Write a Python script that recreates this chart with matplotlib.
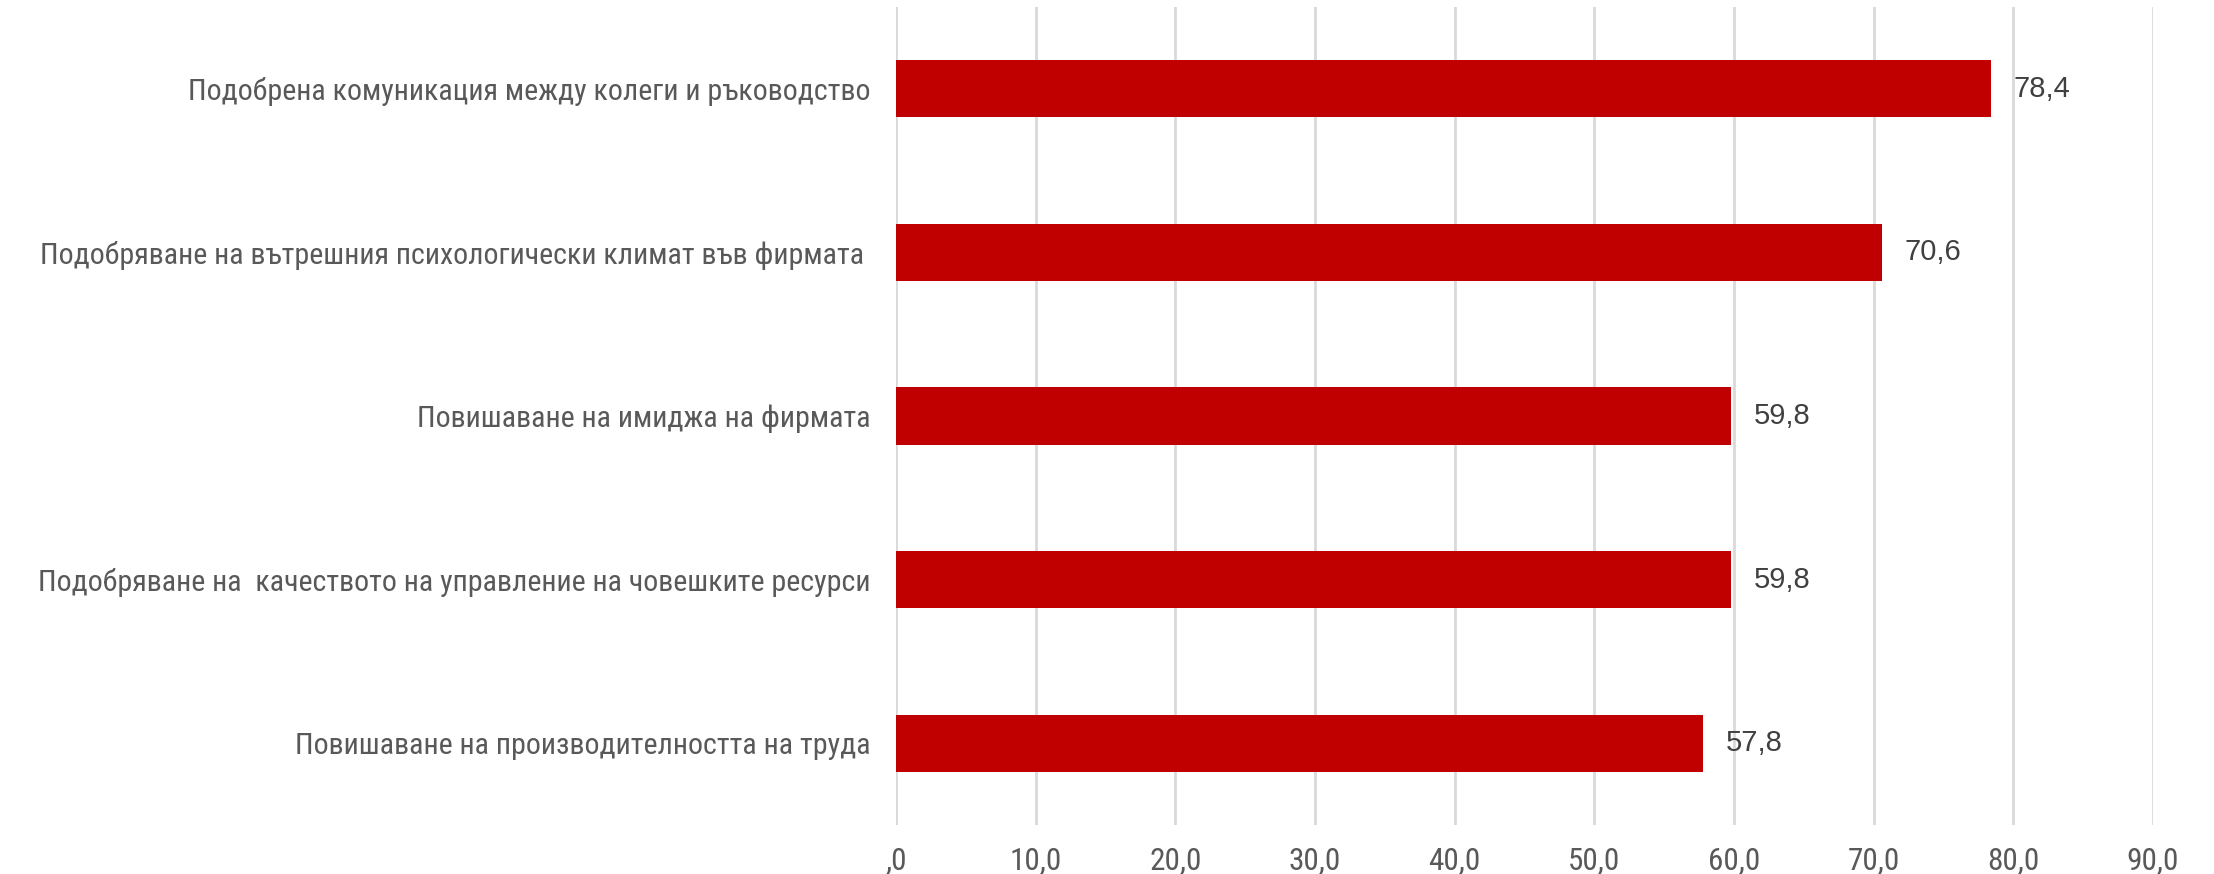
import matplotlib
matplotlib.use("Agg")
import matplotlib.pyplot as plt
from matplotlib import font_manager as fm

categories = [
    "Подобрена комуникация между колеги и ръководство",
    "Подобряване на вътрешния психологически климат във фирмата ",
    "Повишаване на имиджа на фирмата",
    "Подобряване на  качеството на управление на човешките ресурси",
    "Повишаване на производителността на труда",
]
values = [78.4, 70.6, 59.8, 59.8, 57.8]
value_labels = ["78,4", "70,6", "59,8", "59,8", "57,8"]
xticks = [0, 10, 20, 30, 40, 50, 60, 70, 80, 90]
xtick_labels = [",0", "10,0", "20,0", "30,0", "40,0", "50,0", "60,0", "70,0", "80,0", "90,0"]

names = {f.name for f in fm.fontManager.ttflist}
narrow = "Liberation Sans"
for cand in ["Liberation Sans Narrow", "Arial Narrow", "Roboto Condensed", "Open Sans Condensed"]:
    if cand in names:
        narrow = cand
        break
regular = "Liberation Sans" if "Liberation Sans" in names else "DejaVu Sans"

fig = plt.figure(figsize=(22.14, 8.74), dpi=100)
ax = fig.add_axes([896 / 2214, 1 - 825 / 874, (2153 - 896) / 2214, (825 - 7) / 874])

# fit category label size so the first label is ~684 px wide as in the reference
renderer = fig.canvas.get_renderer()
probe = fig.text(0, 0, categories[0], fontsize=21, family=[narrow, "DejaVu Sans"])
w = probe.get_window_extent(renderer).width
probe.remove()
label_size = min(22.0, 21.0 * 684.0 / w)

ypos = list(range(len(categories)))
ax.barh(ypos, values, height=0.35, color="#C00000", zorder=3)
ax.set_ylim(len(categories) - 0.5, -0.5)
ax.set_xlim(0, 90)

for y, v, lab in zip(ypos, values, value_labels):
    ax.annotate(lab, xy=(v, y), xytext=(16, 0), textcoords="offset points",
                ha="left", va="center", fontsize=21, color="#404040",
                family=[regular, "DejaVu Sans"])

ax.set_yticks(ypos)
ax.set_yticklabels(categories, fontsize=label_size, color="#595959", family=[narrow, "DejaVu Sans"])
ax.set_xticks(xticks)
ax.set_xticklabels(xtick_labels, fontsize=22.5, color="#595959", family=[narrow, "DejaVu Sans"])
ax.tick_params(axis="y", length=0, pad=18)
ax.tick_params(axis="x", length=0, pad=15)

ax.grid(axis="x", color="#D9D9D9", linewidth=2, zorder=0)
for s in ax.spines.values():
    s.set_visible(False)

fig.savefig("out.png", dpi=100, facecolor="white")
